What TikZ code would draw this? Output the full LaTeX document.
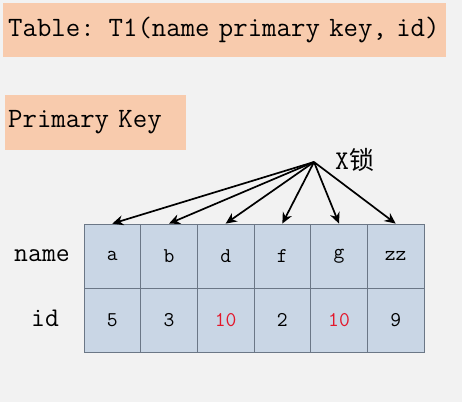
\documentclass[tikz,border=0pt]{standalone}
\usepackage{fontspec}
\newfontfamily\cjk{Noto Sans CJK SC}
\usetikzlibrary{arrows.meta,positioning}
\definecolor{pagegray}{HTML}{F2F2F2}
\definecolor{peach}{HTML}{F8CBAD}
\definecolor{cellblue}{HTML}{C9D6E5}
\definecolor{cellline}{HTML}{6B7786}
\definecolor{lockred}{HTML}{E3172B}
\begin{document}
\begin{tikzpicture}[x=1pt,y=1pt,
    keybox/.style={fill=peach,anchor=west,minimum height=54pt,inner ysep=0pt,
        font=\ttfamily\fontsize{28}{30}\selectfont,align=left},
    cell/.style={draw=cellline,fill=cellblue,line width=0.8pt,minimum width=56.67pt,
        minimum height=64pt,inner sep=0pt,font=\ttfamily\fontsize{21}{24}\selectfont},
    rowlabel/.style={font=\ttfamily\fontsize{27}{29}\selectfont},
    lockarrow/.style={-{Stealth[length=11pt,width=10pt]},line width=1.7pt}]
                    \fill[pagegray](0, 0) rectangle (462, 402);
                    \useasboundingbox(0, 0) rectangle (462, 402);

                    %%boxes above
                    \node[keybox, inner xsep=5pt, text width=433pt] (tabledef) at (3, 372){Table: T1(name primary key, id)};
                    \node[keybox, inner xsep=3pt, text width=175pt, minimum height=55pt] (pkey) at (5, 279.5){Primary Key};

                    %%name row
                    \node[cell] (na) at (112.33, 146){a};
                    \node[cell] (nb) at (169, 146){b};
                    \node[cell] (nd) at (225.67, 146){d};
                    \node[cell] (nf) at (282.33, 146){f};
                    \node[cell] (ng) at (339, 146){g};
                    \node[cell] (nzz) at (395.67, 146){zz};

                    %%id row
                    \node[cell] (i5) at (112.33, 82){5};
                    \node[cell] (i3) at (169, 82){3};
                    \node[cell, text=lockred] (i10a) at (225.67, 82){10};
                    \node[cell] (i2) at (282.33, 82){2};
                    \node[cell, text=lockred] (i10b) at (339, 82){10};
                    \node[cell] (i9) at (395.67, 82){9};

                    %%rows
                    \node[rowlabel] (rname) at (42, 146){name};
                    \node[rowlabel] (rid) at (45, 84){id};

                    %%lock
                    \coordinate (lockpt) at (314, 240);
                    \node[anchor=west, inner sep=0pt] (xlock) at (335, 242){\ttfamily\fontsize{27}{29}\selectfont X\cjk\fontsize{25}{27}\selectfont 锁};
                    \draw[lockarrow] (lockpt) to (na.north);
                    \draw[lockarrow] (lockpt) to (nb.north);
                    \draw[lockarrow] (lockpt) to (nd.north);
                    \draw[lockarrow] (lockpt) to (nf.north);
                    \draw[lockarrow] (lockpt) to (ng.north);
                    \draw[lockarrow] (lockpt) to (nzz.north);
                \end{tikzpicture}
\end{document}
